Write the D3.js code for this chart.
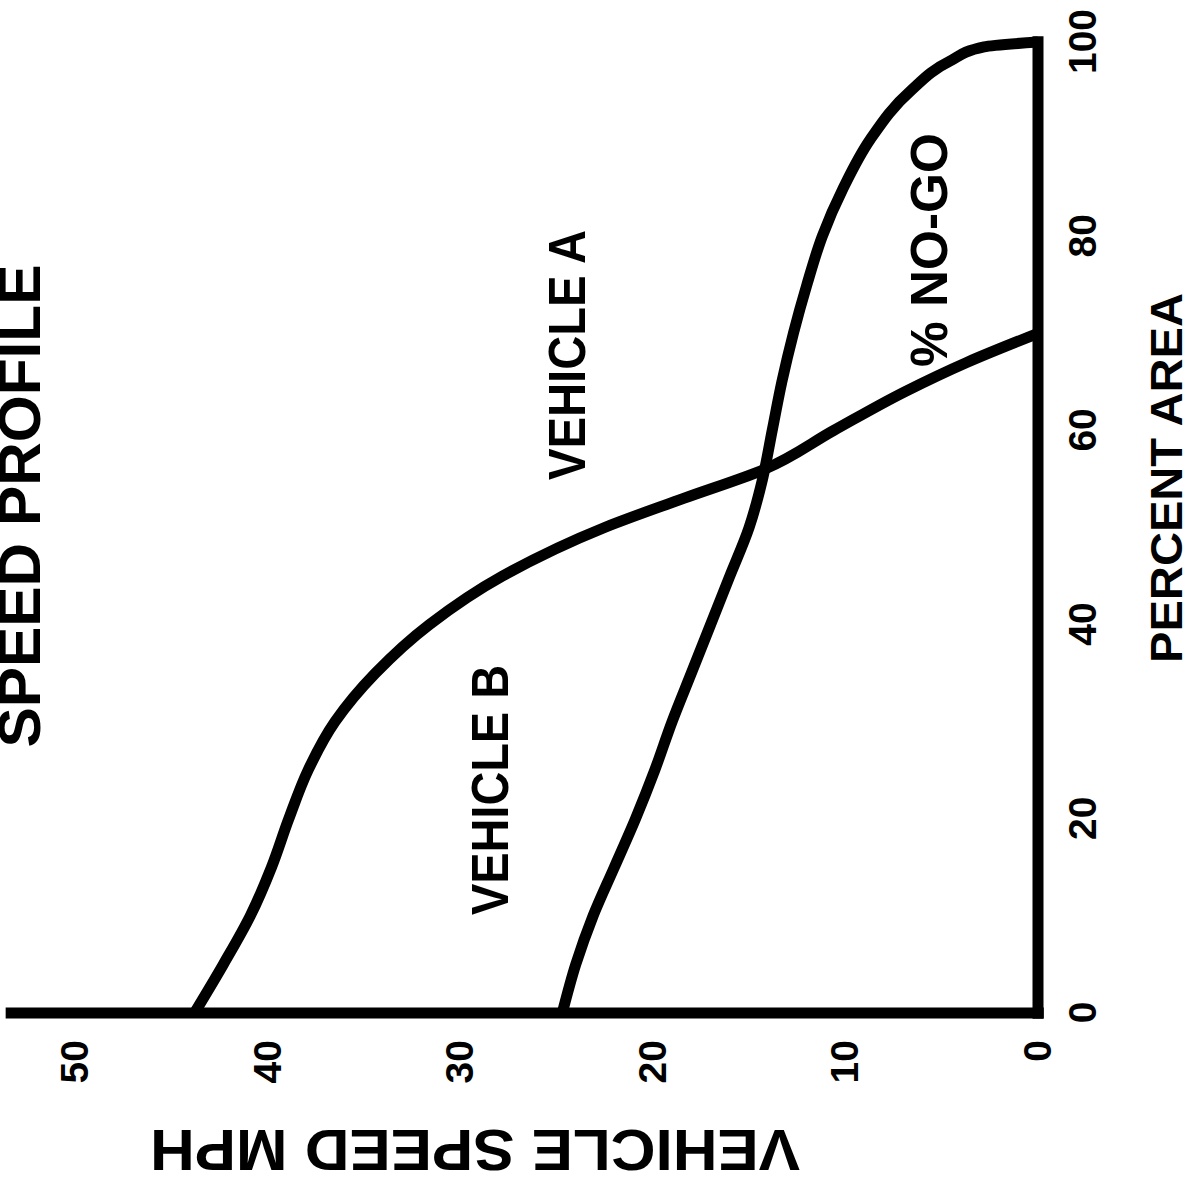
<!DOCTYPE html>
<html>
<head>
<meta charset="utf-8">
<script src="https://cdn.jsdelivr.net/npm/d3@7"></script>
<style>
  body { margin: 0; background: #fff; }
  svg { display: block; }
</style>
</head>
<body>
<svg id="chart" width="1195" height="1183"></svg>
<script>
// tick values
const percentTicks = [0, 20, 40, 60, 80, 100];
const speedTicks   = [0, 10, 20, 30, 40, 50];

// vehicle A: percent area vs speed (mph)
const percentA = [0, 5, 10, 15, 20, 25, 30, 35, 40, 45, 50, 55, 60, 65, 70, 75, 80, 85, 90, 95, 98, 99.5, 100];
const speedA   = [24.7, 24.0, 23.1, 22.0, 20.9, 19.9, 19.0, 18.0, 17.0, 16.0, 15.0, 14.3, 13.8, 13.3, 12.7, 12.0, 11.2, 10.1, 8.7, 6.6, 4.6, 2.8, 0];

// vehicle B
const percentB = [0, 5, 10, 15, 20, 25, 30, 35, 40, 45, 50, 53, 56, 60, 64, 67, 70];
const speedB   = [43.8, 42.3, 40.9, 39.8, 38.9, 37.9, 36.5, 34.4, 31.6, 27.8, 22.5, 18.4, 14.2, 10.6, 6.9, 3.7, 0];

const W = 1195, H = 1183;
const FONT = "'Liberation Sans', Arial, Helvetica, sans-serif";

const svg = d3.select("#chart");

// the chart is drawn upright in g, then turned a quarter turn counter-clockwise
const g = svg.append("g").attr("transform", `translate(0,${H}) rotate(-90)`);

const x = d3.scaleLinear().domain([0, 100]).range([170, 1141]);
const y = d3.scaleLinear().domain([0, 50]).range([1038, 75]);

const styleText = sel => sel
    .attr("font-family", FONT)
    .attr("font-weight", "bold")
    .attr("fill", "#000");

// percent axis
g.append("g").attr("transform", `translate(0,${y(0)})`)
    .call(d3.axisBottom(x).tickValues(percentTicks).tickSize(0).tickPadding(30))
    .call(a => a.select(".domain").remove())
    .call(a => a.selectAll("text").call(styleText).attr("font-size", 39));

// speed axis
g.append("g").attr("transform", `translate(${x(0)},0)`)
    .call(d3.axisLeft(y).tickValues(speedTicks).tickSize(0).tickPadding(27))
    .call(a => a.select(".domain").remove())
    .call(a => a.selectAll("text").call(styleText).attr("font-size", 39));

// heavy axis lines
g.append("line")
    .attr("x1", x(-0.6)).attr("x2", x(100.6))
    .attr("y1", y(0)).attr("y2", y(0))
    .attr("stroke", "#000").attr("stroke-width", 11);
g.append("line")
    .attr("x1", x(0)).attr("x2", x(0))
    .attr("y1", y(-0.3)).attr("y2", y(53.6))
    .attr("stroke", "#000").attr("stroke-width", 11);

const line = d3.line()
    .x(d => x(d[0]))
    .y(d => y(d[1]))
    .curve(d3.curveMonotoneX);

[d3.zip(percentA, speedA), d3.zip(percentB, speedB)].forEach(pts => {
    g.append("path")
        .datum(pts)
        .attr("d", line)
        .attr("fill", "none")
        .attr("stroke", "#000")
        .attr("stroke-width", 11)
        .attr("stroke-linejoin", "round");
});

// labels
const label = (txt, u, v, size, len) => g.append("text")
    .attr("x", u).attr("y", v)
    .attr("text-anchor", "middle")
    .attr("font-size", size)
    .attr("textLength", len)
    .attr("lengthAdjust", "spacingAndGlyphs")
    .call(styleText)
    .text(txt);

label("SPEED PROFILE", 677, 40, 60, 483);
label("PERCENT AREA", 705, 1182, 44, 370);
label("VEHICLE A", 828, 585, 52, 250);
label("VEHICLE B", 393, 508, 52, 250);
label("% NO-GO", 933, 947, 52, 234);

g.append("text")
    .attr("transform", `translate(53,475) rotate(-90)`)
    .attr("text-anchor", "middle")
    .attr("font-size", 58)
    .attr("textLength", 650)
    .attr("lengthAdjust", "spacingAndGlyphs")
    .call(styleText)
    .text("VEHICLE SPEED MPH");
</script>
</body>
</html>
